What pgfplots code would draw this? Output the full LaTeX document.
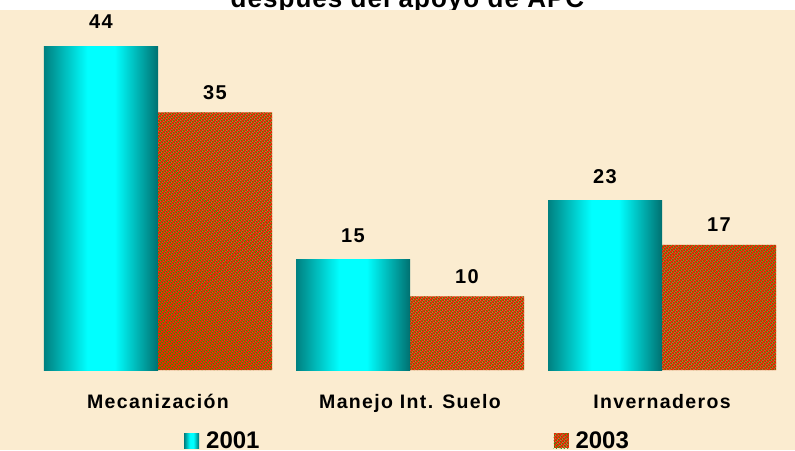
\documentclass[border=0pt]{standalone}
\usepackage{pgfplots}
\pgfplotsset{compat=1.18}
\usetikzlibrary{patterns.meta}
\usepackage{fontspec}
\setmainfont{Liberation Sans}
\newfontfamily\catfont[LetterSpace=7]{Liberation Sans}
\newfontfamily\titlefont[LetterSpace=4]{Liberation Sans}
\definecolor{parch}{RGB}{251,236,208}
\definecolor{tealL}{RGB}{0,128,128}
\definecolor{tealR}{RGB}{0,112,112}
\definecolor{hred}{RGB}{235,35,0}
\definecolor{hgreen}{RGB}{40,155,0}
\pgfdeclarehorizontalshading{tealshade}{100bp}{color(0bp)=(tealL); color(25bp)=(tealL); color(44bp)=(cyan); color(56bp)=(cyan); color(75bp)=(tealR); color(100bp)=(tealR)}
\pgfplotsset{
  b2001/.style={draw=none, shade, shading=tealshade,
    bar shift=-57pt, every node near coord/.append style={yshift=17.5pt}},
  b2003/.style={draw=none, fill=hred,
    postaction={pattern={Lines[angle=-45,distance=2.1213pt,line width=1.35pt]}, pattern color=hgreen},
    bar shift=57pt, every node near coord/.append style={yshift=13pt}},
}
\begin{document}
\begin{tikzpicture}
\path[use as bounding box] (0,0) rectangle (795pt,450pt);
\clip (0,0) rectangle (795pt,450pt);
\fill[white] (0,0) rectangle (795pt,450pt);
\fill[parch] (0,0) rectangle (795pt,440pt);
\begin{axis}[
  at={(0,0)}, anchor=south west,
  scale only axis, width=795pt, height=450pt,
  xmin=-0.62698, xmax=2.52778,
  ymin=-10.864, ymax=50.247,
  axis lines=none,
  ybar=0pt, bar width=114pt,
  clip=false,
  /pgf/number format/assume math mode=true,
  nodes near coords,
  every node near coord/.append style={text=black, font=\catfont\fontsize{20}{20}\selectfont\bfseries, inner sep=0pt, anchor=base},
  legend columns=2,
  legend style={draw=none, fill=none, inner sep=0pt, at={(0.2314,0.02)}, anchor=west,
    nodes={inner sep=0pt, font=\fontsize{24}{24}\selectfont\bfseries},
    /tikz/every odd column/.append style={column sep=7pt},
    /tikz/every even column/.append style={column sep=294pt}},
  legend image code/.code={\fill[#1] (0pt,-7.5pt) rectangle (15pt,7.5pt);},
]
\addplot[b2001] coordinates {(0,44)};
\addlegendentry{2001}
\addplot[b2003] coordinates {(0,35) (1,10) (2,17)};
\addlegendentry{2003}
\addplot[b2001, forget plot] coordinates {(1,15)};
\addplot[b2001, forget plot] coordinates {(2,23)};
\node[anchor=base, font=\catfont\fontsize{19.5}{19.5}\selectfont\bfseries] at (axis cs:0,-5.296) {Mecanización};
\node[anchor=base, font=\catfont\fontsize{19.5}{19.5}\selectfont\bfseries] at (axis cs:1,-5.296) {Manejo Int. Suelo};
\node[anchor=base, font=\catfont\fontsize{19.5}{19.5}\selectfont\bfseries] at (axis cs:2,-5.296) {Invernaderos};
\end{axis}
\fill[white] (0,440pt) rectangle (795pt,450pt);
\begin{scope}
\clip (0,440pt) rectangle (795pt,450pt);
\node[anchor=base, inner sep=0pt, font=\titlefont\fontsize{26}{26}\selectfont\bfseries] at (407.5pt,442.5pt) {después del apoyo de APC};
\end{scope}
\end{tikzpicture}
\end{document}
